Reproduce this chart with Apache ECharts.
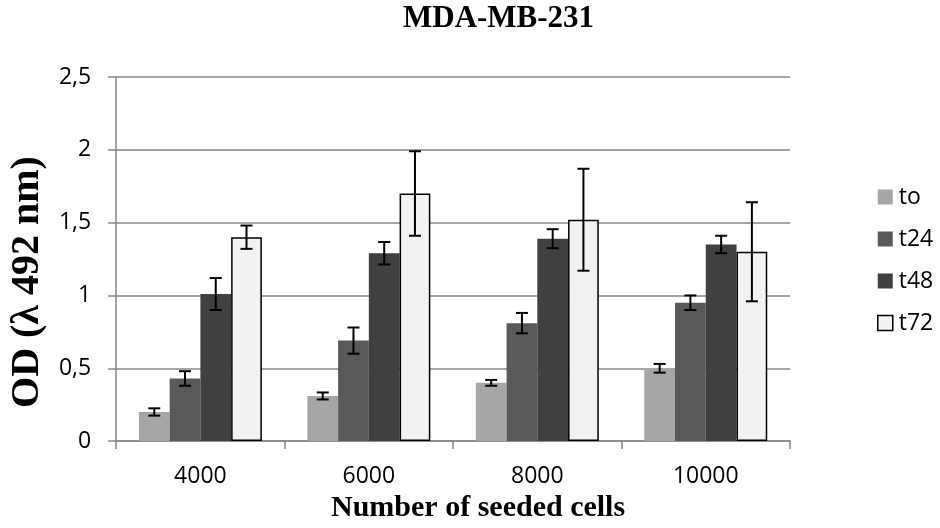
<!DOCTYPE html>
<html><head><meta charset="utf-8">
<script src="https://cdn.jsdelivr.net/npm/echarts@6/dist/echarts.min.js"></script>
<style>html,body{margin:0;padding:0;background:#fff}#c{width:940px;height:528px}</style>
</head><body><div id="c"></div>
<script>
const categories = ['4000', '6000', '8000', '10000'];
const seriesNames = ['to', 't24', 't48', 't72'];
const toVals  = [0.20, 0.31, 0.40, 0.50];
const t24Vals = [0.43, 0.69, 0.81, 0.95];
const t48Vals = [1.01, 1.29, 1.39, 1.35];
const t72Vals = [1.40, 1.70, 1.52, 1.30];
const toErr  = [0.025, 0.024, 0.02, 0.03];
const t24Err = [0.05, 0.09, 0.07, 0.05];
const t48Err = [0.11, 0.077, 0.065, 0.06];
const t72Err = [0.08, 0.29, 0.35, 0.34];
const yTicks = [0, 0.5, 1, 1.5, 2, 2.5];

const values = [toVals, t24Vals, t48Vals, t72Vals];
const errs = [toErr, t24Err, t48Err, t72Err];
const colors = ['#a6a6a6', '#595959', '#404040', '#f2f2f2'];
const catGap = 0.27;

const barSeries = seriesNames.map((n, i) => ({
  name: n, type: 'bar', data: values[i],
  barGap: '0%', barCategoryGap: (catGap * 100) + '%',
  itemStyle: { color: colors[i], borderColor: i === 3 ? '#000' : colors[i], borderWidth: i === 3 ? 1.5 : 0 },
  emphasis: { disabled: true }
}));

const errData = [];
seriesNames.forEach((n, i) => {
  categories.forEach((c, j) => {
    errData.push([j, values[i][j] - errs[i][j], values[i][j] + errs[i][j], i]);
  });
});

const errSeries = {
  type: 'custom', name: 'err', data: errData, z: 10,
  renderItem: function (params, api) {
    const j = api.value(0), lo = api.value(1), hi = api.value(2), si = api.value(3);
    const catW = api.size([1, 0])[0];
    const groupW = catW * (1 - catGap);
    const bw = groupW / 4;
    const center = api.coord([j, 0])[0];
    const x = center - groupW / 2 + bw * (si + 0.5);
    const yLo = api.coord([j, lo])[1], yHi = api.coord([j, hi])[1];
    const cap = 6;
    const st = { stroke: '#000', lineWidth: 2 };
    return { type: 'group', children: [
      { type: 'line', shape: { x1: x, y1: yLo, x2: x, y2: yHi }, style: st },
      { type: 'line', shape: { x1: x - cap, y1: yLo, x2: x + cap, y2: yLo }, style: st },
      { type: 'line', shape: { x1: x - cap, y1: yHi, x2: x + cap, y2: yHi }, style: st }
    ]};
  }
};

const chart = echarts.init(document.getElementById('c'));
chart.setOption({
  animation: false,
  title: { text: 'MDA-MB-231', left: 403, top: 3, padding: 0,
    textStyle: { fontFamily: 'Liberation Serif', fontWeight: 'bold', fontSize: 31, color: '#000' } },
  legend: {
    orient: 'vertical', left: 877, top: 183, padding: 0, itemGap: 14, itemWidth: 15, itemHeight: 15,
    data: seriesNames.map((n, i) => ({ name: n, icon: 'rect',
      itemStyle: { color: colors[i], borderColor: i === 3 ? '#000' : colors[i], borderWidth: i === 3 ? 1.5 : 0 } })),
    textStyle: { fontFamily: 'Open Sans', fontSize: 23, lineHeight: 28, color: '#000', padding: [0, 0, 0, 1] },
    selectedMode: false
  },
  grid: { left: 111, right: 150, top: 77, bottom: 81, containLabel: false },
  xAxis: {
    type: 'category', data: categories,
    name: 'Number of seeded cells', nameLocation: 'middle', nameGap: 48,
    nameTextStyle: { fontFamily: 'Liberation Serif', fontWeight: 'bold', fontSize: 30, color: '#000', padding: [0, 0, 0, 50] },
    axisLine: { lineStyle: { color: '#868686', width: 1.5 } },
    axisTick: { show: true, length: 8, lineStyle: { color: '#868686', width: 1.5 } },
    axisLabel: { fontFamily: 'Open Sans', fontSize: 23, color: '#000', margin: 24 }
  },
  yAxis: {
    type: 'value', min: yTicks[0], max: yTicks[yTicks.length - 1], interval: 0.5,
    name: 'OD (λ 492 nm)', nameLocation: 'middle', nameGap: 63,
    nameTextStyle: { fontFamily: 'Liberation Serif', fontWeight: 'bold', fontSize: 40, color: '#000', padding: [0, 46, 0, 0] },
    axisLine: { show: true, lineStyle: { color: '#868686', width: 1.5 } },
    axisTick: { show: true, length: 8, lineStyle: { color: '#868686', width: 1.5 } },
    splitLine: { lineStyle: { color: '#868686', width: 1.5 } },
    axisLabel: { fontFamily: 'Open Sans', fontSize: 23, color: '#000', margin: 25,
      formatter: v => String(v).replace('.', ',') }
  },
  series: [...barSeries, errSeries]
});
</script></body></html>
